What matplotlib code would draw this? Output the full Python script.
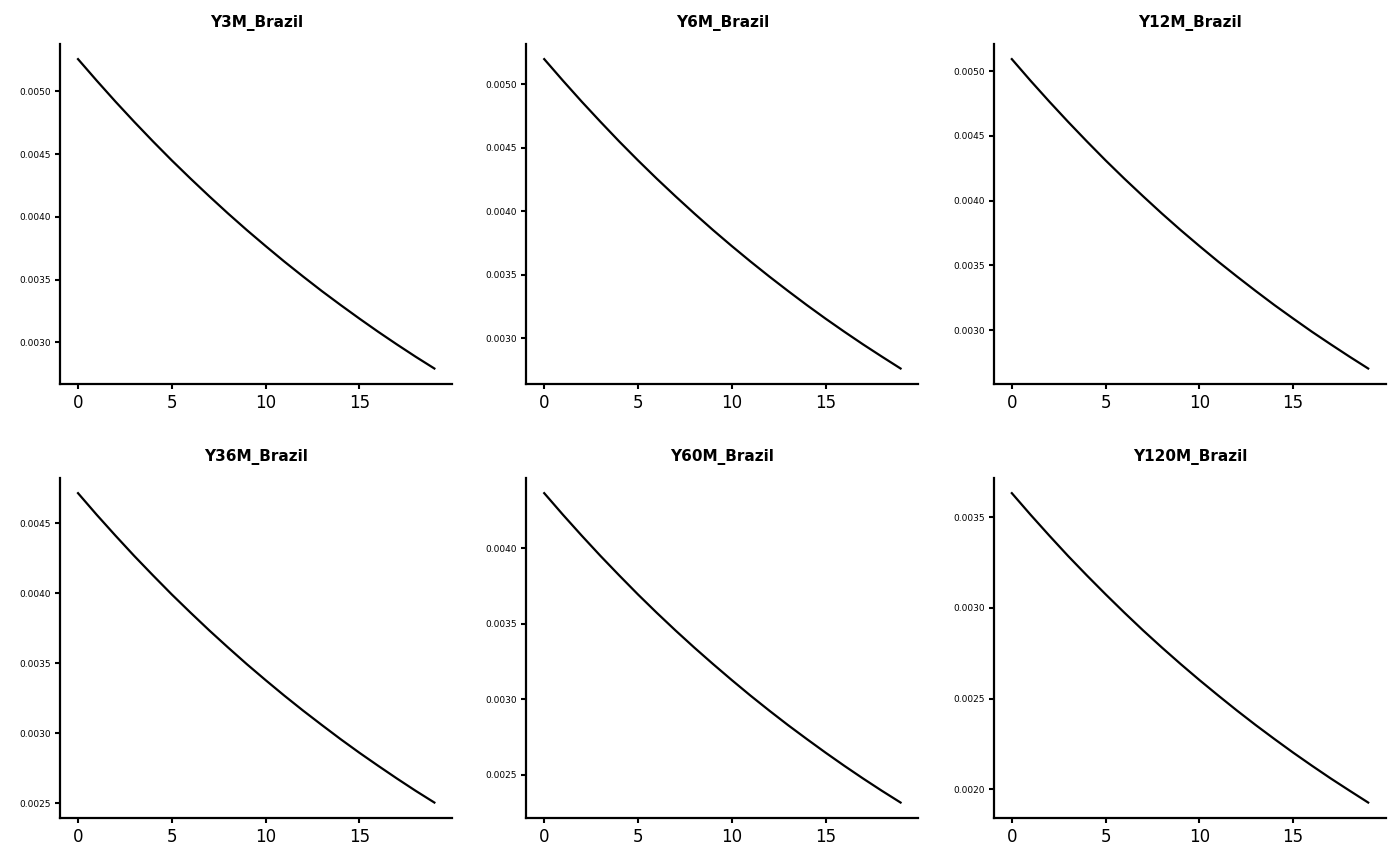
import numpy as np
import matplotlib
matplotlib.use("Agg")
import matplotlib.pyplot as plt
from matplotlib.ticker import MultipleLocator, FormatStrFormatter

# horizon (steps)
steps = list(range(20))

titles = ["Y3M_Brazil", "Y6M_Brazil", "Y12M_Brazil",
          "Y36M_Brazil", "Y60M_Brazil", "Y120M_Brazil"]

y3m = [0.005256, 0.005084, 0.004917, 0.004756, 0.004600, 0.004449, 0.004304,
       0.004163, 0.004026, 0.003894, 0.003767, 0.003643, 0.003524, 0.003408,
       0.003297, 0.003189, 0.003084, 0.002983, 0.002885, 0.002791]
y6m = [0.005198, 0.005028, 0.004863, 0.004704, 0.004549, 0.004400, 0.004256,
       0.004117, 0.003982, 0.003851, 0.003725, 0.003603, 0.003485, 0.003371,
       0.003260, 0.003153, 0.003050, 0.002950, 0.002854, 0.002760]
y12m = [0.005093, 0.004926, 0.004765, 0.004609, 0.004458, 0.004311, 0.004170,
        0.004034, 0.003901, 0.003773, 0.003650, 0.003530, 0.003415, 0.003303,
        0.003194, 0.003090, 0.002988, 0.002891, 0.002796, 0.002704]
y36m = [0.004715, 0.004560, 0.004411, 0.004266, 0.004127, 0.003991, 0.003861,
        0.003734, 0.003612, 0.003493, 0.003379, 0.003268, 0.003161, 0.003058,
        0.002957, 0.002860, 0.002767, 0.002676, 0.002588, 0.002504]
y60m = [0.004363, 0.004220, 0.004082, 0.003948, 0.003819, 0.003693, 0.003572,
        0.003455, 0.003342, 0.003233, 0.003127, 0.003024, 0.002925, 0.002829,
        0.002737, 0.002647, 0.002560, 0.002476, 0.002395, 0.002317]
y120m = [0.003632, 0.003513, 0.003398, 0.003286, 0.003179, 0.003075, 0.002974,
         0.002876, 0.002782, 0.002691, 0.002603, 0.002518, 0.002435, 0.002355,
         0.002278, 0.002203, 0.002131, 0.002061, 0.001994, 0.001928]

series = [y3m, y6m, y12m, y36m, y60m, y120m]


def main():
    fig = plt.figure(figsize=(14, 8.66), dpi=100)

    lefts = [0.043, 0.376, 0.710]
    bottoms = [0.5566, 0.0554]
    w, h = 0.280, 0.393

    for i, (title, vals) in enumerate(zip(titles, series)):
        ax = fig.add_axes([lefts[i % 3], bottoms[i // 3], w, h])
        ax.plot(steps, vals, color="black", linewidth=1.6)
        ax.set_title(title, fontsize=11, fontweight="bold", pad=12)

        ax.spines["top"].set_visible(False)
        ax.spines["right"].set_visible(False)
        ax.spines["left"].set_linewidth(1.6)
        ax.spines["bottom"].set_linewidth(1.6)

        ax.set_xticks([0, 5, 10, 15])
        ax.yaxis.set_major_locator(MultipleLocator(0.0005))
        ax.yaxis.set_major_formatter(FormatStrFormatter("%.4f"))
        ax.tick_params(axis="x", labelsize=12, length=3.5, width=1.5, pad=4)
        ax.tick_params(axis="y", labelsize=6.5, length=3.5, width=1.5, pad=3)

    fig.savefig("out.png", dpi=100)


if __name__ == "__main__":
    main()
